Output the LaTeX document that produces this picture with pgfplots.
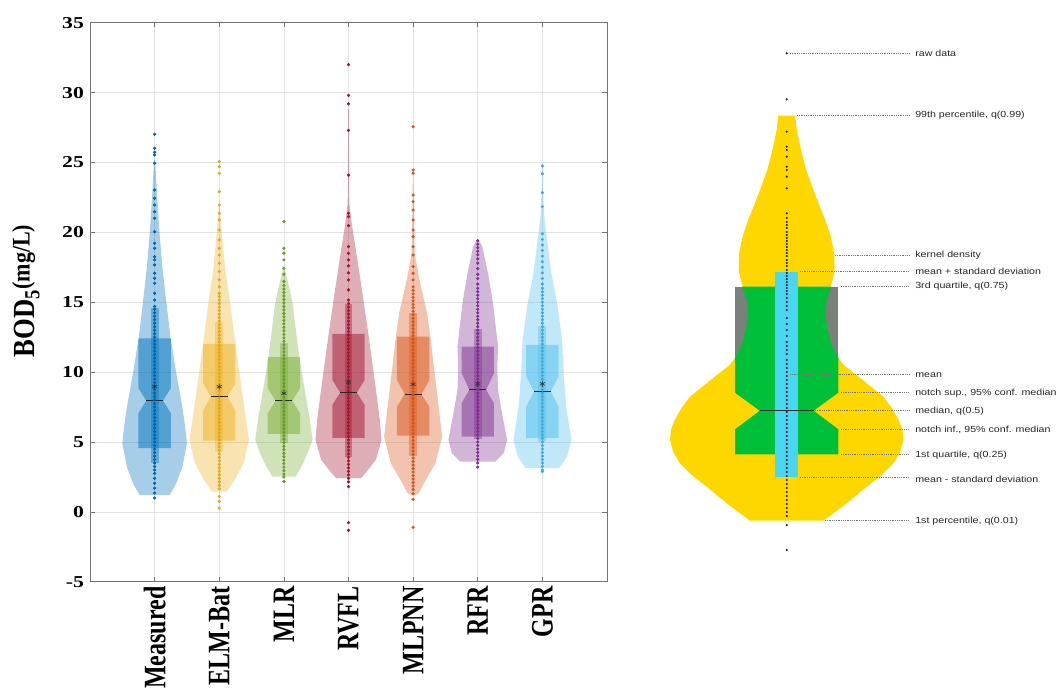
\documentclass[border=0pt]{standalone}
\usepackage{fontspec}
\setmainfont{Liberation Serif}
\newfontfamily\sansf{Liberation Sans}
\usepackage{pgfplots}
\usepackage{pgfplotstable}
\pgfplotsset{compat=1.18}

\definecolor{cA}{RGB}{0,114,189}
\definecolor{cB}{RGB}{237,177,32}
\definecolor{cC}{RGB}{119,172,48}
\definecolor{cD}{RGB}{162,20,47}
\definecolor{cE}{RGB}{217,83,25}
\definecolor{cF}{RGB}{126,47,142}
\definecolor{cG}{RGB}{77,190,238}
\definecolor{vyel}{RGB}{255,215,0}
\definecolor{vgray}{RGB}{122,128,122}
\definecolor{vgreen}{RGB}{0,192,58}
\definecolor{vcyan}{RGB}{72,214,242}

\tikzset{lbl/.style={anchor=west, inner sep=0pt, xscale=1.2, text=black!85}}
\pgfplotsset{lead/.style={black!55, line width=0.4pt, dash pattern=on 0.45pt off 0.9pt}}
\newcommand{\lf}{\sansf\fontsize{6.65}{7.5}\selectfont}

% violin outlines: value v, signed half width d (x units)
\pgfplotstableread{
v d
1.2 0.232
2.0 0.33
3.2 0.429
4.9 0.500
6.2 0.47
7.5 0.429
9.9 0.336
12.4 0.248
15.0 0.181
17.5 0.12
19.9 0.077
22.5 0.04
25.2 0.008
25.2 -0.008
22.5 -0.04
19.9 -0.077
17.5 -0.12
15.0 -0.181
12.4 -0.248
9.9 -0.336
7.5 -0.429
6.2 -0.47
4.9 -0.500
3.2 -0.429
2.0 -0.33
1.2 -0.232
}\vA
\pgfplotstableread{
v d
1.45 0.116
2.3 0.237
3.48 0.376
5.15 0.46
7.3 0.392
9.9 0.314
12.07 0.248
14.9 0.170
17.3 0.093
20.0 0.039
22.1 0.005
22.1 -0.005
20.0 -0.039
17.3 -0.093
14.9 -0.170
12.07 -0.248
9.9 -0.314
7.3 -0.392
5.15 -0.46
3.48 -0.376
2.3 -0.237
1.45 -0.116
}\vB
\pgfplotstableread{
v d
2.53 0.181
3.4 0.29
4.2 0.367
5.15 0.444
6.58 0.402
8.96 0.314
11.1 0.237
14.93 0.135
16.5 0.06
17.55 0.005
17.55 -0.005
16.5 -0.06
14.93 -0.135
11.1 -0.237
8.96 -0.314
6.58 -0.402
5.15 -0.444
4.2 -0.367
3.4 -0.29
2.53 -0.181
}\vC
\pgfplotstableread{
v d
2.41 0.194
3.0 0.3
3.72 0.423
5.15 0.511
6.58 0.485
9.68 0.398
12.8 0.305
15.6 0.217
18.0 0.139
20.5 0.054
22.1 0.012
28.8 0.004
28.8 -0.004
22.1 -0.012
20.5 -0.054
18.0 -0.139
15.6 -0.217
12.8 -0.305
9.68 -0.398
6.58 -0.485
5.15 -0.511
3.72 -0.423
3.0 -0.3
2.41 -0.194
}\vD
\pgfplotstableread{
v d
1.2 0.03
1.34 0.088
2.05 0.166
3.48 0.345
5.39 0.449
7.06 0.407
9.44 0.345
12.5 0.268
14.2 0.217
16.6 0.098
18.5 0.023
24.0 0.004
24.0 -0.004
18.5 -0.023
16.6 -0.098
14.2 -0.217
12.5 -0.268
9.44 -0.345
7.06 -0.407
5.39 -0.449
3.48 -0.345
2.05 -0.166
1.34 -0.088
1.2 -0.03
}\vE
\pgfplotstableread{
v d
3.6 0.271
4.2 0.402
5.15 0.454
7.06 0.376
8.73 0.314
10.3 0.302
11.83 0.314
14.93 0.237
17.07 0.159
19.0 0.07
19.5 0.01
19.5 -0.01
19.0 -0.07
17.07 -0.159
14.93 -0.237
11.83 -0.314
10.3 -0.302
8.73 -0.314
7.06 -0.376
5.15 -0.454
4.2 -0.402
3.6 -0.271
}\vF
\pgfplotstableread{
v d
3.13 0.259
3.96 0.382
5.15 0.449
7.53 0.367
9.92 0.330
12.3 0.305
14.7 0.237
17.07 0.139
19.46 0.073
21.4 0.023
24.8 0.004
24.8 -0.004
21.4 -0.023
19.46 -0.073
17.07 -0.139
14.7 -0.237
12.3 -0.305
9.92 -0.330
7.53 -0.367
5.15 -0.449
3.96 -0.382
3.13 -0.259
}\vG
% explanatory violin (panel units)
\pgfplotstableread{
Y d
173.3 36.7
190.7 60
199 70
207.3 80
219 95
230.7 106.7
242 113.5
254 116.7
264 115.8
274 112
285.5 105.5
297.3 96.7
314 76
329 57
336 51.65
349 45
364 41
379 38.5
394 40
411 45
423 48
441 47.5
458 44
474 38.5
490 32
507.3 25.5
524 19.5
541 15
564 10
578.3 8.5
578.3 -8.5
564 -10
541 -15
524 -19.5
507.3 -25.5
490 -32
474 -38.5
458 -44
441 -47.5
423 -48
411 -45
394 -40
379 -38.5
364 -41
349 -45
336 -51.65
329 -57
314 -76
297.3 -96.7
285.5 -105.5
274 -112
264 -115.8
254 -116.7
242 -113.5
230.7 -106.7
219 -95
207.3 -80
199 -70
190.7 -60
173.3 -36.7
}\vR

\begin{document}
\begin{tikzpicture}

\begin{axis}[
  at={(67.5pt,84.2pt)}, anchor=south west,
  scale only axis, width=387.75pt, height=419.25pt,
  xmin=0, xmax=8, ymin=-5, ymax=35,
  xtick={1,2,3,4,5,6,7},
  xticklabels={Measured,ELM-Bat,MLR,RVFL,MLPNN,RFR,GPR},
  ytick={-5,0,5,10,15,20,25,30,35},
  grid=major, grid style={color=black!11, line width=0.4pt},
  tick align=inside, major tick length=3.5pt,
  axis line style={color=black!55, line width=0.5pt},
  tick style={color=black!55, line width=0.5pt},
  /pgf/number format/assume math mode=true,
  yticklabel style={font=\bfseries\fontsize{12.5}{12.5}\selectfont, xscale=1.3},
  xticklabel style={font=\bfseries\fontsize{18}{18}\selectfont, rotate=90, anchor=east, yscale=1.3},
  ylabel={\bfseries BOD$_{\mathbf{5}}$\raisebox{0.35ex}{\fontsize{16.5}{16.5}\selectfont(mg/L)}},
  ylabel style={at={(rel axis cs:-0.124,0.52)}, anchor=center, font=\fontsize{20}{20}\selectfont, yscale=1.15},
  clip=false
]
% violins
\addplot[fill=cA, fill opacity=0.35, draw=none] table[x expr=1+\thisrow{d}, y=v]{\vA} -- cycle;
\addplot[fill=cB, fill opacity=0.35, draw=none] table[x expr=2+\thisrow{d}, y=v]{\vB} -- cycle;
\addplot[fill=cC, fill opacity=0.35, draw=none] table[x expr=3+\thisrow{d}, y=v]{\vC} -- cycle;
\addplot[fill=cD, fill opacity=0.35, draw=none] table[x expr=4+\thisrow{d}, y=v]{\vD} -- cycle;
\addplot[fill=cE, fill opacity=0.35, draw=none] table[x expr=5+\thisrow{d}, y=v]{\vE} -- cycle;
\addplot[fill=cF, fill opacity=0.35, draw=none] table[x expr=6+\thisrow{d}, y=v]{\vF} -- cycle;
\addplot[fill=cG, fill opacity=0.35, draw=none] table[x expr=7+\thisrow{d}, y=v]{\vG} -- cycle;

% notched boxes
\addplot[fill=cA, fill opacity=0.5, draw=none] coordinates {(0.75,4.56) (1.25,4.56) (1.25,7.06) (1.13,7.96) (1.25,8.85) (1.25,12.42) (0.75,12.42) (0.75,8.85) (0.87,7.96) (0.75,7.06)} -- cycle;
\addplot[fill=cB, fill opacity=0.5, draw=none] coordinates {(1.75,5.1) (2.25,5.1) (2.25,7.25) (2.13,8.25) (2.25,9.2) (2.25,12.02) (1.75,12.02) (1.75,9.2) (1.87,8.25) (1.75,7.25)} -- cycle;
\addplot[fill=cC, fill opacity=0.5, draw=none] coordinates {(2.75,5.58) (3.25,5.58) (3.25,7.06) (3.13,7.94) (3.25,8.85) (3.25,11.07) (2.75,11.07) (2.75,8.85) (2.87,7.94) (2.75,7.06)} -- cycle;
\addplot[fill=cD, fill opacity=0.5, draw=none] coordinates {(3.75,5.3) (4.25,5.3) (4.25,7.65) (4.13,8.53) (4.25,9.44) (4.25,12.73) (3.75,12.73) (3.75,9.44) (3.87,8.53) (3.75,7.65)} -- cycle;
\addplot[fill=cE, fill opacity=0.5, draw=none] coordinates {(4.75,5.46) (5.25,5.46) (5.25,7.53) (5.13,8.42) (5.25,9.44) (5.25,12.54) (4.75,12.54) (4.75,9.44) (4.87,8.42) (4.75,7.53)} -- cycle;
\addplot[fill=cF, fill opacity=0.5, draw=none] coordinates {(5.75,5.39) (6.25,5.39) (6.25,7.78) (6.13,8.73) (6.25,9.92) (6.25,11.83) (5.75,11.83) (5.75,9.92) (5.87,8.73) (5.75,7.78)} -- cycle;
\addplot[fill=cG, fill opacity=0.5, draw=none] coordinates {(6.75,5.27) (7.25,5.27) (7.25,7.53) (7.13,8.61) (7.25,9.68) (7.25,11.95) (6.75,11.95) (6.75,9.68) (6.87,8.61) (6.75,7.53)} -- cycle;

% mean +/- sd strips
\addplot[fill=cA, fill opacity=0.4, draw=none] coordinates {(0.94,3.5) (1.06,3.5) (1.06,14.6) (0.94,14.6)} -- cycle;
\addplot[fill=cB, fill opacity=0.4, draw=none] coordinates {(1.94,4.3) (2.06,4.3) (2.06,13.6) (1.94,13.6)} -- cycle;
\addplot[fill=cC, fill opacity=0.4, draw=none] coordinates {(2.94,4.9) (3.06,4.9) (3.06,12.1) (2.94,12.1)} -- cycle;
\addplot[fill=cD, fill opacity=0.4, draw=none] coordinates {(3.94,3.9) (4.06,3.9) (4.06,14.9) (3.94,14.9)} -- cycle;
\addplot[fill=cE, fill opacity=0.4, draw=none] coordinates {(4.94,4.0) (5.06,4.0) (5.06,14.2) (4.94,14.2)} -- cycle;
\addplot[fill=cF, fill opacity=0.4, draw=none] coordinates {(5.94,5.2) (6.06,5.2) (6.06,13.1) (5.94,13.1)} -- cycle;
\addplot[fill=cG, fill opacity=0.4, draw=none] coordinates {(6.94,5.0) (7.06,5.0) (7.06,13.3) (6.94,13.3)} -- cycle;

% raw data
\addplot[only marks, mark=*, mark size=1pt, color=cA!90!black] table[row sep=\\, header=false, x expr=1, y index=0]{27.02\\26.02\\25.73\\25.54\\24.94\\23.03\\22.44\\21.96\\21.48\\21.01\\20.05\\19.22\\18.86\\18.26\\18.03\\17.67\\17.07\\16.72\\16.36\\15.64\\15.16\\14.69\\14.5\\14.25\\14.0\\13.75\\13.5\\13.25\\13.0\\12.75\\12.5\\12.25\\12.0\\11.75\\11.5\\11.25\\11.0\\10.75\\10.5\\10.25\\10.0\\9.75\\9.5\\9.25\\9.0\\8.75\\8.5\\8.25\\8.0\\7.75\\7.5\\7.25\\7.0\\6.75\\6.5\\6.25\\6.0\\5.75\\5.5\\5.25\\5.0\\4.75\\4.5\\4.25\\4.0\\3.75\\3.5\\3.25\\3.0\\2.75\\2.4\\2.05\\1.7\\1.35\\0.99\\};
\addplot[only marks, mark=*, mark size=1pt, color=cB!95!black] table[row sep=\\, header=false, x expr=2, y index=0]{25.06\\24.70\\24.23\\22.91\\21.96\\21.37\\20.89\\20.17\\19.46\\18.86\\18.38\\17.79\\17.2\\16.6\\16.1\\15.64\\15.4\\15.15\\14.9\\14.65\\14.4\\14.15\\13.9\\13.65\\13.4\\13.15\\12.9\\12.65\\12.4\\12.15\\11.9\\11.65\\11.4\\11.15\\10.9\\10.65\\10.4\\10.15\\9.9\\9.65\\9.4\\9.15\\8.9\\8.65\\8.4\\8.15\\7.9\\7.65\\7.4\\7.15\\6.9\\6.65\\6.4\\6.15\\5.9\\5.65\\5.4\\5.15\\4.9\\4.65\\4.4\\4.15\\3.9\\3.65\\3.4\\3.15\\2.9\\2.65\\2.4\\2.15\\1.9\\1.65\\1.1\\0.75\\0.27\\};
\addplot[only marks, mark=*, mark size=1pt, color=cC!90!black] table[row sep=\\, header=false, x expr=3, y index=0]{20.77\\18.86\\18.5\\18.03\\17.43\\17.0\\16.48\\16.2\\15.95\\15.7\\15.45\\15.2\\14.95\\14.7\\14.45\\14.2\\13.95\\13.7\\13.45\\13.2\\12.95\\12.7\\12.45\\12.2\\11.95\\11.7\\11.45\\11.2\\10.95\\10.7\\10.45\\10.2\\9.95\\9.7\\9.45\\9.2\\8.95\\8.7\\8.45\\8.2\\7.95\\7.7\\7.45\\7.2\\6.95\\6.7\\6.45\\6.2\\5.95\\5.7\\5.45\\5.2\\4.95\\4.7\\4.45\\4.2\\3.95\\3.7\\3.45\\3.2\\2.95\\2.7\\2.5\\2.17\\};
\addplot[only marks, mark=*, mark size=1pt, color=cD] table[row sep=\\, header=false, x expr=4, y index=0]{32.0\\29.8\\29.2\\27.3\\24.1\\21.37\\21.13\\20.48\\18.98\\18.5\\18.03\\17.6\\17.1\\16.6\\15.88\\15.15\\14.9\\14.65\\14.4\\14.15\\13.9\\13.65\\13.4\\13.15\\12.9\\12.65\\12.4\\12.15\\11.9\\11.65\\11.4\\11.15\\10.9\\10.65\\10.4\\10.15\\9.9\\9.65\\9.4\\9.15\\8.9\\8.65\\8.4\\8.15\\7.9\\7.65\\7.4\\7.15\\6.9\\6.65\\6.4\\6.15\\5.9\\5.65\\5.4\\5.15\\4.9\\4.65\\4.4\\4.15\\3.9\\3.65\\3.4\\3.15\\2.9\\2.65\\2.4\\2.15\\1.81\\-0.77\\-1.32\\};
\addplot[only marks, mark=*, mark size=1pt, color=cE] table[row sep=\\, header=false, x expr=5, y index=0]{27.56\\24.46\\24.23\\22.67\\22.2\\21.6\\20.89\\20.17\\19.69\\18.98\\18.38\\17.55\\17.07\\16.6\\16.1\\15.85\\15.6\\15.35\\15.1\\14.85\\14.6\\14.35\\14.1\\13.85\\13.6\\13.35\\13.1\\12.85\\12.6\\12.35\\12.1\\11.85\\11.6\\11.35\\11.1\\10.85\\10.6\\10.35\\10.1\\9.85\\9.6\\9.35\\9.1\\8.85\\8.6\\8.35\\8.1\\7.85\\7.6\\7.35\\7.1\\6.85\\6.6\\6.35\\6.1\\5.85\\5.6\\5.35\\5.1\\4.85\\4.6\\4.35\\4.1\\3.85\\3.6\\3.35\\3.1\\2.85\\2.6\\2.35\\2.1\\1.85\\1.6\\1.3\\0.9\\-1.1\\};
\addplot[only marks, mark=*, mark size=1pt, color=cF] table[row sep=\\, header=false, x expr=6, y index=0]{19.4\\19.15\\18.9\\18.65\\18.4\\18.1\\17.8\\17.4\\17.0\\16.7\\16.3\\16.0\\15.75\\15.5\\15.25\\15.0\\14.75\\14.5\\14.25\\14.0\\13.75\\13.5\\13.25\\13.0\\12.75\\12.5\\12.25\\12.0\\11.75\\11.5\\11.25\\11.0\\10.75\\10.5\\10.25\\10.0\\9.75\\9.5\\9.25\\9.0\\8.75\\8.5\\8.25\\8.0\\7.75\\7.5\\7.25\\7.0\\6.75\\6.5\\6.25\\6.0\\5.75\\5.5\\5.25\\5.0\\4.75\\4.5\\4.25\\4.0\\3.75\\3.5\\3.2\\};
\addplot[only marks, mark=*, mark size=1pt, color=cG!90!black] table[row sep=\\, header=false, x expr=7, y index=0]{24.75\\24.2\\22.84\\21.84\\19.9\\19.5\\19.1\\18.7\\18.3\\17.9\\17.5\\17.1\\16.7\\16.3\\16.0\\15.75\\15.5\\15.25\\15.0\\14.75\\14.5\\14.25\\14.0\\13.75\\13.5\\13.25\\13.0\\12.75\\12.5\\12.25\\12.0\\11.75\\11.5\\11.25\\11.0\\10.75\\10.5\\10.25\\10.0\\9.75\\9.5\\9.25\\9.0\\8.75\\8.5\\8.25\\8.0\\7.75\\7.5\\7.25\\7.0\\6.75\\6.5\\6.25\\6.0\\5.75\\5.5\\5.25\\5.0\\4.75\\4.5\\4.25\\4.0\\3.75\\3.5\\3.25\\3.0\\2.88\\};

% medians
\addplot[black!85, line width=0.8pt] coordinates {(0.87,7.96) (1.13,7.96)};
\addplot[black!85, line width=0.8pt] coordinates {(1.87,8.25) (2.13,8.25)};
\addplot[black!85, line width=0.8pt] coordinates {(2.87,7.94) (3.13,7.94)};
\addplot[black!85, line width=0.8pt] coordinates {(3.87,8.53) (4.13,8.53)};
\addplot[black!85, line width=0.8pt] coordinates {(4.87,8.42) (5.13,8.42)};
\addplot[black!85, line width=0.8pt] coordinates {(5.87,8.73) (6.13,8.73)};
\addplot[black!85, line width=0.8pt] coordinates {(6.87,8.61) (7.13,8.61)};
% means
\addplot[only marks, mark=asterisk, mark size=2.2pt, color=black!80, mark options={line width=0.45pt}] coordinates {(1,8.96) (2,8.96) (3,8.49) (4,9.28) (5,9.13) (6,9.16) (7,9.16)};
\end{axis}

% ---------- explanatory violin ----------
\begin{axis}[
  at={(480pt,0pt)}, anchor=south west,
  scale only axis, width=312pt, height=520.5pt,
  xmin=640, xmax=1056, ymin=0, ymax=694,
  hide axis, clip=false
]
\addplot[fill=vyel, draw=none] table[x expr=786.7+\thisrow{d}, y=Y]{\vR} -- cycle;
% box parts
\addplot[fill=vgray, draw=none] coordinates {(735.05,336) (838.35,336) (838.35,407.3) (735.05,407.3)} -- cycle;
\addplot[fill=vgreen, draw=none] coordinates {(831.2,407.3) (826.7,394) (825.2,379) (827.7,364) (831.7,349) (838.35,336) (838.35,301.3) (813.7,283.3) (838.35,264.7) (838.35,239.7) (735.05,239.7) (735.05,264.7) (759.7,283.3) (735.05,301.3) (735.05,336) (741.7,349) (745.7,364) (748.2,379) (746.7,394) (742.2,407.3)} -- cycle;
\addplot[fill=vcyan, draw=none] coordinates {(775.05,216.7) (798.35,216.7) (798.35,422.3) (775.05,422.3)} -- cycle;
\addplot[black!80, line width=0.6pt] coordinates {(759.7,283.3) (813.7,283.3)};
% raw data
\addplot[only marks, mark=*, mark size=0.6pt, color=black!85] table[row sep=\\, header=false, x expr=786.7, y index=0]{640.7\\594.7\\562.3\\547.3\\544\\537.3\\527.3\\524\\517.3\\505.7\\480.7\\476\\472\\469\\466\\462\\459\\456\\453\\450\\447\\444\\441\\438\\434\\431\\428\\424\\421\\418\\415\\412\\409\\406\\403\\400\\396\\392\\388\\384\\376\\370\\364\\358\\352\\348\\344\\340\\334\\330\\326\\322\\318\\314\\310\\306\\302\\298\\294\\290\\286\\282\\278\\274\\270\\266\\262\\258\\254\\250\\246\\242\\238\\234\\230\\226\\222\\218\\214\\210\\206\\202\\198\\194\\190\\186\\182\\178\\169\\144\\};
% leaders
\addplot[lead] coordinates {(790,640.7) (909,640.7)};
\addplot[lead] coordinates {(797,578.3) (909,578.3)};
\addplot[lead] coordinates {(835,438.3) (909,438.3)};
\addplot[lead] coordinates {(800,422.3) (909,422.3)};
\addplot[lead] coordinates {(841,407.3) (909,407.3)};
\addplot[lead] coordinates {(790,319.7) (909,319.7)};
\addplot[lead] coordinates {(841,301.3) (909,301.3)};
\addplot[lead] coordinates {(815,283.3) (909,283.3)};
\addplot[lead] coordinates {(841,264.7) (909,264.7)};
\addplot[lead] coordinates {(841,239.7) (909,239.7)};
\addplot[lead] coordinates {(800,216.7) (909,216.7)};
\addplot[lead] coordinates {(825,173.3) (909,173.3)};
\node[lbl] at (axis cs:915,640.7) {\lf raw data};
\node[lbl] at (axis cs:915,578.3) {\lf 99th percentile, q(0.99)};
\node[lbl] at (axis cs:915,438.3) {\lf kernel density};
\node[lbl] at (axis cs:915,422.3) {\lf mean + standard deviation};
\node[lbl] at (axis cs:915,407.3) {\lf 3rd quartile, q(0.75)};
\node[lbl] at (axis cs:915,318.7) {\lf mean};
\node[lbl] at (axis cs:915,300.7) {\lf notch sup., 95\% conf. median};
\node[lbl] at (axis cs:915,282.3) {\lf median, q(0.5)};
\node[lbl] at (axis cs:915,264.0) {\lf notch inf., 95\% conf. median};
\node[lbl] at (axis cs:915,238.3) {\lf 1st quartile, q(0.25)};
\node[lbl] at (axis cs:915,214.7) {\lf mean - standard deviation};
\node[lbl] at (axis cs:915,172.3) {\lf 1st percentile, q(0.01)};
\end{axis}
\pgfresetboundingbox
\useasboundingbox (0,0) rectangle (792pt,520.5pt);
\end{tikzpicture}
\end{document}
